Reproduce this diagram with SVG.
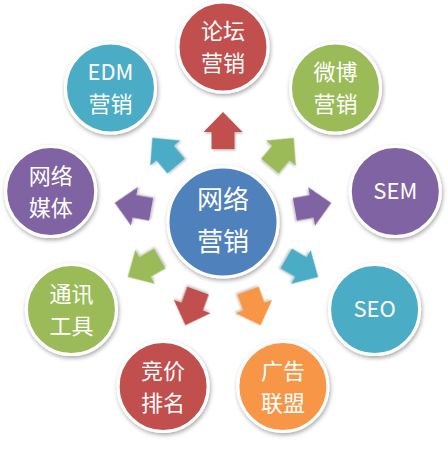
<svg xmlns="http://www.w3.org/2000/svg" width="448" height="449" viewBox="0 0 448 449">
<defs>
<filter id="sh" x="-20%" y="-20%" width="140%" height="140%">
<feDropShadow dx="1" dy="2" stdDeviation="2" flood-color="#000" flood-opacity="0.35"/>
</filter>
<filter id="ash" x="-30%" y="-30%" width="160%" height="160%">
<feDropShadow dx="1" dy="1.5" stdDeviation="1.2" flood-color="#000" flood-opacity="0.25"/>
</filter>
<path id="arr" d="M223,112 L242.5,132 L234.5,132 L234.5,149 L211.5,149 L211.5,132 L203.5,132 Z"/>
</defs>
<style>
.c{stroke:#fff;stroke-width:3;filter:url(#sh)}
.t{fill:#fff;font-family:"Noto Sans CJK SC","Noto Sans",sans-serif;font-size:22px;text-anchor:middle}
.m{font-size:26px}
.red{fill:#C0504D}.grn{fill:#9BBB59}.pur{fill:#8064A2}.cyn{fill:#4BACC6}.org{fill:#F79646}.blu{fill:#4F81BD}
.a{filter:url(#ash)}
</style>
<rect width="448" height="449" fill="#fff"/>
<g id="connectors">
<use href="#arr" class="a red" transform="rotate(0 223 222)"/>
<use href="#arr" class="a grn" transform="rotate(40 223 222)"/>
<use href="#arr" class="a pur" transform="rotate(80 223 222)"/>
<use href="#arr" class="a cyn" transform="rotate(120 223 222)"/>
<use href="#arr" class="a org" transform="rotate(160 223 222)"/>
<use href="#arr" class="a red" transform="rotate(200 223 222)"/>
<use href="#arr" class="a grn" transform="rotate(240 223 222)"/>
<use href="#arr" class="a pur" transform="rotate(280 223 222)"/>
<use href="#arr" class="a cyn" transform="rotate(320 223 222)"/>
</g>
<g id="center">
<circle class="c blu" cx="223" cy="222" r="55"/>
<text class="t m" x="223" y="209">网络<tspan x="223" dy="42">营销</tspan></text>
</g>
<g id="n-luntan">
<circle class="c red" cx="223" cy="47" r="45"/>
<text class="t" x="223" y="39">论坛<tspan x="223" dy="32">营销</tspan></text>
</g>
<g id="n-weibo">
<circle class="c grn" cx="335.5" cy="88" r="45"/>
<text class="t" x="335.5" y="80">微博<tspan x="335.5" dy="32">营销</tspan></text>
</g>
<g id="n-sem">
<circle class="c pur" cx="395.3" cy="191.6" r="45"/>
<text class="t" x="395.3" y="199">SEM</text>
</g>
<g id="n-seo">
<circle class="c cyn" cx="374.6" cy="309.5" r="45"/>
<text class="t" x="374.6" y="317">SEO</text>
</g>
<g id="n-guanggao">
<circle class="c org" cx="282.9" cy="386.4" r="45"/>
<text class="t" x="282.9" y="378.5">广告<tspan x="282.9" dy="32">联盟</tspan></text>
</g>
<g id="n-jingjia">
<circle class="c red" cx="163.1" cy="386.4" r="45"/>
<text class="t" x="163.1" y="378.5">竞价<tspan x="163.1" dy="32">排名</tspan></text>
</g>
<g id="n-tongxun">
<circle class="c grn" cx="71.4" cy="309.5" r="45"/>
<text class="t" x="71.4" y="301.5">通讯<tspan x="71.4" dy="32">工具</tspan></text>
</g>
<g id="n-meiti">
<circle class="c pur" cx="50.7" cy="191.6" r="45"/>
<text class="t" x="50.7" y="183.5">网络<tspan x="50.7" dy="32">媒体</tspan></text>
</g>
<g id="n-edm">
<circle class="c cyn" cx="110.5" cy="88" r="45"/>
<text class="t" x="110.5" y="80">EDM<tspan x="110.5" dy="32">营销</tspan></text>
</g>
</svg>
